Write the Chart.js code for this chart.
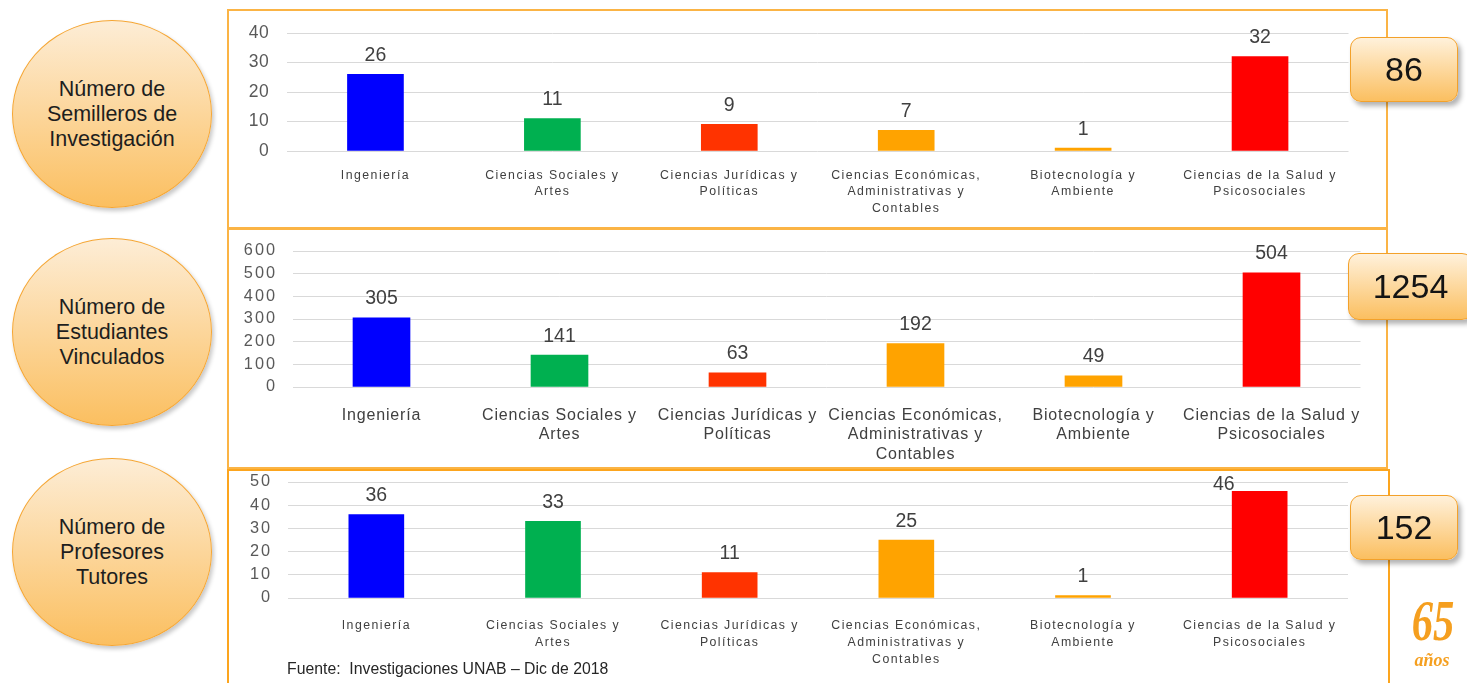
<!DOCTYPE html>
<html><head><meta charset="utf-8">
<script src="https://cdn.jsdelivr.net/npm/chart.js@4.4.1/dist/chart.umd.min.js"></script>
<style>
body{margin:0;width:1467px;height:683px;overflow:hidden;background:#fff;font-family:"Liberation Sans",Arial,sans-serif;position:relative}
.panel{position:absolute;border:2px solid #fbb445;box-sizing:border-box}
.circle{position:absolute;left:12px;width:200px;height:188px;border-radius:50%;border:1.5px solid #f5a634;box-sizing:border-box;background:linear-gradient(#fdedd6,#fbbf60);box-shadow:2px 3px 4px rgba(0,0,0,0.22);display:flex;align-items:center;justify-content:center;text-align:center;font-size:21.5px;line-height:25px;color:#1e1e1e}
.box{position:absolute;border-radius:11px;border:1.5px solid #f3a12a;box-sizing:border-box;background:linear-gradient(#fff1db,#fbbf60);box-shadow:3px 4px 5px rgba(0,0,0,0.3);display:flex;align-items:center;justify-content:center;font-size:34px;color:#141414}
canvas{position:absolute}
#foot{position:absolute;left:287px;top:660px;font-size:15.8px;line-height:18px;color:#262626;white-space:pre}
#logo65{position:absolute;left:1398px;top:590px;width:70px;text-align:center;font-family:"Liberation Serif",serif;font-style:italic;font-weight:bold;font-size:56px;line-height:62px;color:#f59f1f;transform:scaleX(0.76)}
#logoAnos{position:absolute;left:1404px;top:650px;width:56px;text-align:center;font-family:"Liberation Serif",serif;font-style:italic;font-weight:bold;font-size:18px;line-height:20px;color:#f59f1f}
</style>
</head>
<body>
<div class="panel" style="left:227px;top:9px;width:1161px;height:220px"></div>
<div class="panel" style="left:227px;top:228px;width:1161px;height:241px"></div>
<div class="panel" style="left:227px;top:469px;width:1163px;height:240px;border-color:#fca51e"></div>

<div class="circle" style="top:20px">Número de<br>Semilleros de<br>Investigación</div>
<div class="circle" style="top:238px">Número de<br>Estudiantes<br>Vinculados</div>
<div class="circle" style="top:458px">Número de<br>Profesores<br>Tutores</div>

<canvas id="c1" width="1155" height="214" style="left:230px;top:12px"></canvas>
<canvas id="c2" width="1155" height="235" style="left:230px;top:231px"></canvas>
<canvas id="c3" width="1155" height="211" style="left:230px;top:472px"></canvas>

<div class="box" id="b1" style="left:1350px;top:37px;width:108px;height:65px"></div>
<div class="box" id="b2" style="left:1348px;top:253px;width:125px;height:67px"></div>
<div class="box" id="b3" style="left:1350px;top:495px;width:108px;height:65px"></div>

<div id="foot">Fuente:  Investigaciones UNAB – Dic de 2018</div>
<div id="logo65">65</div>
<div id="logoAnos">años</div>

<script>
// ---- data ----
const categories = [
  ['Ingeniería'],
  ['Ciencias Sociales y', 'Artes'],
  ['Ciencias Jurídicas y', 'Políticas'],
  ['Ciencias Económicas,', 'Administrativas y', 'Contables'],
  ['Biotecnología y', 'Ambiente'],
  ['Ciencias de la Salud y', 'Psicosociales']
];
const barColors = ['#0000ff', '#00b050', '#ff3300', '#ffa300', '#ffa300', '#ff0000'];
const semilleros = [26, 11, 9, 7, 1, 32];
const estudiantes = [305, 141, 63, 192, 49, 504];
const profesores = [36, 33, 11, 25, 1, 46];
const ticksSemilleros = [0, 10, 20, 30, 40];
const ticksEstudiantes = [0, 100, 200, 300, 400, 500, 600];
const ticksProfesores = [0, 10, 20, 30, 40, 50];
const totals = [86, 1254, 152];

document.getElementById('b1').textContent = totals[0];
document.getElementById('b2').textContent = totals[1];
document.getElementById('b3').textContent = totals[2];

// letter spacing per chart/scale (rendering style)
const spacing = {
  c1: {x: '1.45px', y: '0.7px'},
  c2: {x: '0.85px', y: '2px'},
  c3: {x: '1.45px', y: '2px'}
};
for (const S of [Chart.CategoryScale, Chart.LinearScale]) {
  const orig = S.prototype.drawLabels;
  S.prototype.drawLabels = function (area) {
    const ctx = this.ctx;
    ctx.save();
    const s = (spacing[this.chart.canvas.id] || {})[this.id];
    if (s) ctx.letterSpacing = s;
    orig.call(this, area);
    ctx.restore();
  };
}

const valueLabels = {
  id: 'valueLabels',
  afterDatasetsDraw(chart, args, opts) {
    const ctx = chart.ctx;
    const meta = chart.getDatasetMeta(0);
    const vals = chart.data.datasets[0].data;
    ctx.save();
    ctx.letterSpacing = '0px';
    ctx.font = opts.size + 'px "Liberation Sans", Arial, sans-serif';
    ctx.fillStyle = '#404040';
    ctx.textBaseline = 'alphabetic';
    meta.data.forEach((el, i) => {
      let y = el.y - opts.offset;
      let x = el.x;
      ctx.textAlign = 'center';
      if (y - opts.size * 0.72 < chart.chartArea.top - 10) {
        y = el.y - 1;
        x = el.x - 25;
        ctx.textAlign = 'right';
      }
      ctx.fillText(String(vals[i]), x, y);
    });
    ctx.restore();
  }
};

function makeChart(id, values, yTicks, cfg) {
  const chart = new Chart(document.getElementById(id), {
    type: 'bar',
    data: {labels: categories, datasets: [{data: values, backgroundColor: barColors, borderWidth: 0, barThickness: cfg.barW}]},
    options: {
      responsive: false, animation: false, events: [],
      layout: {padding: {top: cfg.padTop, right: cfg.padRight, left: 0, bottom: 0}},
      plugins: {legend: {display: false}, tooltip: {enabled: false}, valueLabels: {size: 19.5, offset: 13.5}},
      scales: {
        x: {
          grid: {display: false}, border: {display: false},
          ticks: {autoSkip: false, maxRotation: 0, minRotation: 0, padding: cfg.xPad, color: '#404040',
            font: {family: '"Liberation Sans", Arial, sans-serif', size: cfg.xFont, lineHeight: cfg.xLine}},
          afterFit: s => { s.height = cfg.xH; }
        },
        y: {
          min: 0, max: yTicks[yTicks.length - 1],
          afterBuildTicks: s => { s.ticks = yTicks.map(v => ({value: v})); },
          grid: {color: '#d9d9d9', lineWidth: 1, drawTicks: true, tickLength: cfg.yPad, tickColor: 'rgba(0,0,0,0)'},
          border: {display: false},
          ticks: {autoSkip: false, padding: 0, color: '#595959',
            font: {family: '"Liberation Sans", Arial, sans-serif', size: cfg.yFont}},
          afterFit: s => { s.width = cfg.yW; }
        }
      }
    },
    plugins: [valueLabels]
  });
  chart.draw();
  return chart;
}

makeChart('c1', semilleros, ticksSemilleros,
  {barW: 56, padTop: 21, padRight: 36.5, yW: 57, xH: 75, xPad: 8.25, xFont: 12.3, xLine: '16.5px', yPad: 17.5, yFont: 17.5});
makeChart('c2', estudiantes, ticksEstudiantes,
  {barW: 57, padTop: 20, padRight: 24.5, yW: 62.5, xH: 79, xPad: 10.5, xFont: 16, xLine: '19.5px', yPad: 15.5, yFont: 16.3});
makeChart('c3', profesores, ticksProfesores,
  {barW: 55, padTop: 10, padRight: 37, yW: 58, xH: 85, xPad: 11.5, xFont: 12.3, xLine: '17px', yPad: 16, yFont: 16.3});
</script>
</body></html>
